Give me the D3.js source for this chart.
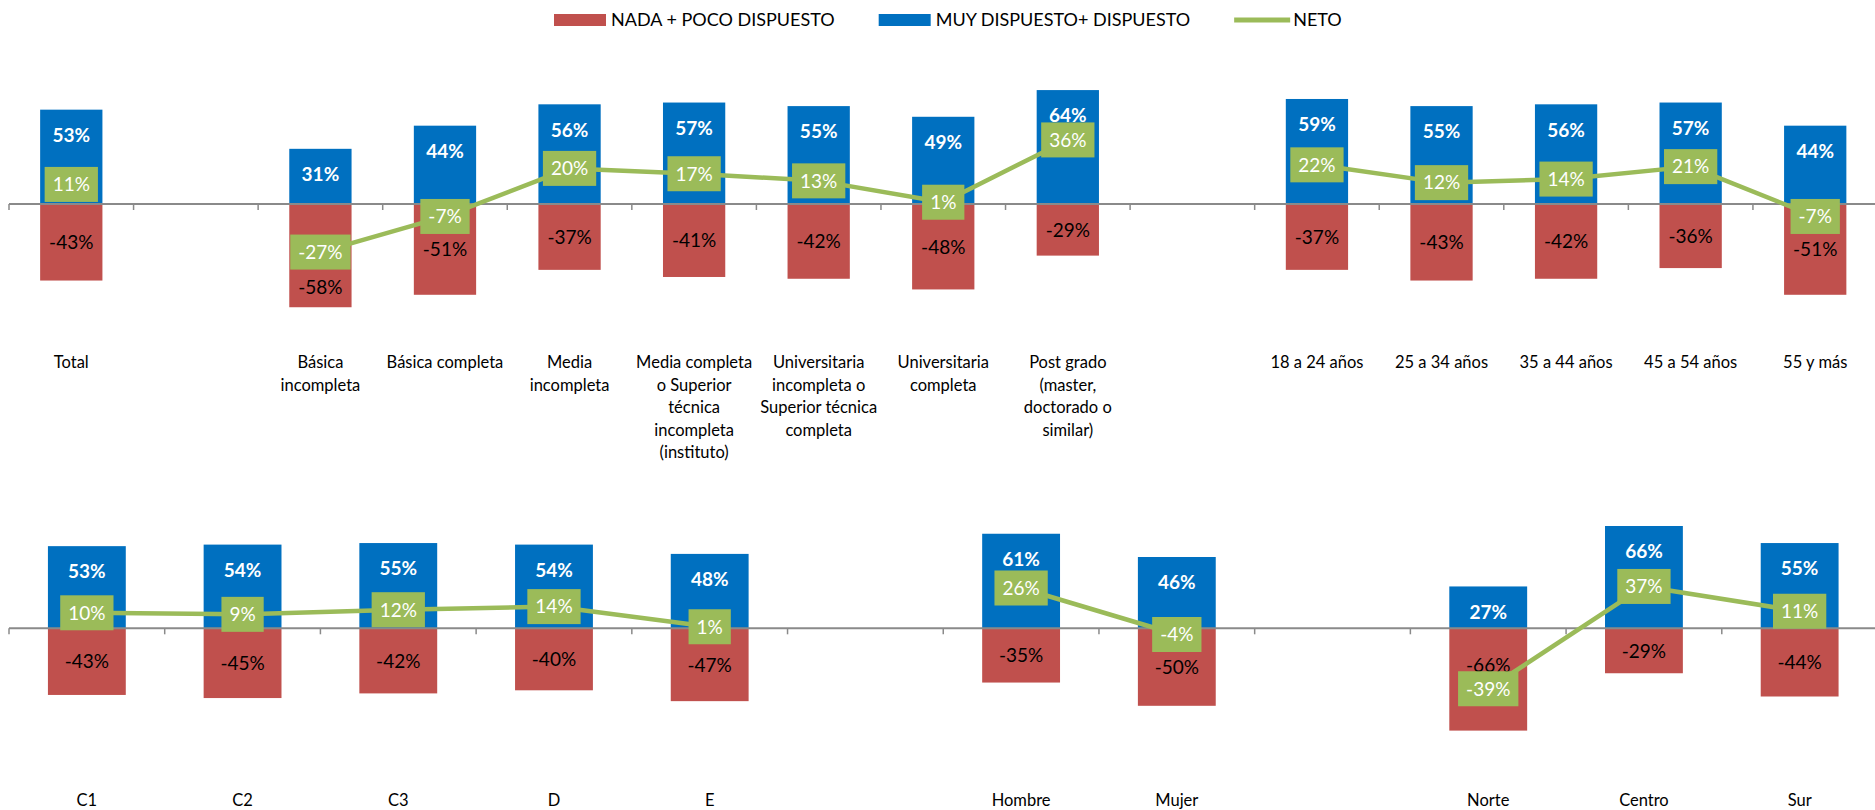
<!DOCTYPE html>
<html>
<head>
<meta charset="utf-8">
<script src="https://cdn.jsdelivr.net/npm/d3@7"></script>
<style>
  body { margin: 0; background: #fff; }
  svg { display: block; font-family: Lato, "Open Sans", sans-serif; }
</style>
</head>
<body>
<svg id="chart" width="1875" height="810"></svg>
<script>
// top panel: total, education level, age ("" = empty gap slot)
const topCategories = [
  "Total", "",
  "Básica\nincompleta", "Básica completa", "Media\nincompleta",
  "Media completa\no Superior\ntécnica\nincompleta\n(instituto)",
  "Universitaria\nincompleta o\nSuperior técnica\ncompleta",
  "Universitaria\ncompleta", "Post grado\n(master,\ndoctorado o\nsimilar)", "",
  "18 a 24 años", "25 a 34 años", "35 a 44 años", "45 a 54 años", "55 y más"
];
const topPositive = [53, null, 31, 44, 56, 57, 55, 49, 64, null, 59, 55, 56, 57, 44];
const topNegative = [-43, null, -58, -51, -37, -41, -42, -48, -29, null, -37, -43, -42, -36, -51];
const topNet = [11, null, -27, -7, 20, 17, 13, 1, 36, null, 22, 12, 14, 21, -7];

// bottom panel: socioeconomic level, gender, zone
const bottomCategories = ["C1", "C2", "C3", "D", "E", "", "Hombre", "Mujer", "", "Norte", "Centro", "Sur"];
const bottomPositive = [53, 54, 55, 54, 48, null, 61, 46, null, 27, 66, 55];
const bottomNegative = [-43, -45, -42, -40, -47, null, -35, -50, null, -66, -29, -44];
const bottomNet = [10, 9, 12, 14, 1, null, 26, -4, null, -39, 37, 11];
// where the line point actually sits in the source (Centro is drawn lower than its label)
const bottomNetPlotted = [10, 9, 12, 14, 1, null, 26, -4, null, -39, 27, 11];

const seriesNames = ["NADA + POCO DISPUESTO", "MUY DISPUESTO+ DISPUESTO", "NETO"];

const colors = { neg: "#C0504D", pos: "#0070C0", net: "#9BBB59", axis: "#8A8A8A" };
const svg = d3.select("#chart");
const boxH = 35;

function pct(v) { return v + "%"; }

function drawPanel(cfg) {
  const g = svg.append("g");
  const n = cfg.categories.length;
  const x = d3.scaleBand().domain(d3.range(n)).range([9, 1877.5]).padding(0);
  const y = d3.scaleLinear().domain(cfg.domain).range(cfg.range);
  const barW = x.bandwidth() * 0.5;
  const cx = i => x(i) + x.bandwidth() / 2;
  const idx = d3.range(n);

  // bars
  g.selectAll(".pos").data(idx.filter(i => cfg.pos[i] != null)).join("rect")
    .attr("class", "pos")
    .attr("x", i => cx(i) - barW / 2).attr("width", barW)
    .attr("y", i => y(cfg.pos[i])).attr("height", i => y(0) - y(cfg.pos[i]))
    .attr("fill", colors.pos);
  g.selectAll(".neg").data(idx.filter(i => cfg.neg[i] != null)).join("rect")
    .attr("class", "neg")
    .attr("x", i => cx(i) - barW / 2).attr("width", barW)
    .attr("y", y(0)).attr("height", i => y(cfg.neg[i]) - y(0))
    .attr("fill", colors.neg);

  // category axis with ticks on the band edges
  g.append("line")
    .attr("x1", x.range()[0]).attr("x2", 1875)
    .attr("y1", y(0)).attr("y2", y(0))
    .attr("stroke", colors.axis).attr("stroke-width", 2);
  g.selectAll(".tick").data(d3.range(n + 1)).join("line")
    .attr("class", "tick")
    .attr("x1", i => x.range()[0] + i * x.step()).attr("x2", i => x.range()[0] + i * x.step())
    .attr("y1", y(0)).attr("y2", y(0) + 6)
    .attr("stroke", colors.axis).attr("stroke-width", 1.5);

  const labels = g.selectAll(".cat").data(idx).join("text")
    .attr("class", "cat")
    .attr("x", cx).attr("y", cfg.labelY)
    .attr("text-anchor", "middle")
    .attr("font-size", 16.5).attr("fill", "#000");
  labels.each(function(i) {
    const lines = cfg.categories[i].split("\n");
    d3.select(this).selectAll("tspan").data(lines).join("tspan")
      .attr("x", cx(i)).attr("dy", (d, k) => k === 0 ? 0 : 22.5)
      .text(d => d);
  });

  // net line
  const line = d3.line()
    .defined(i => cfg.netPlot[i] != null)
    .x(cx).y(i => y(cfg.netPlot[i]));
  g.append("path").datum(idx)
    .attr("d", line)
    .attr("fill", "none").attr("stroke", colors.net)
    .attr("stroke-width", 4.5).attr("stroke-linejoin", "round");

  // value labels
  g.selectAll(".posLbl").data(idx.filter(i => cfg.pos[i] != null)).join("text")
    .attr("class", "posLbl")
    .attr("x", cx).attr("y", i => y(cfg.pos[i]) + 25.5).attr("dy", "0.36em")
    .attr("text-anchor", "middle").attr("font-size", 19).attr("font-weight", 700)
    .attr("fill", "#fff").text(i => pct(cfg.pos[i]));

  // red labels sit mid-bar unless the net box covers them
  const negY = i => {
    let c = (y(0) + y(cfg.neg[i])) / 2;
    const ny = y(cfg.netPlot[i]);
    if (Math.abs(c - ny) < boxH / 2 + 9) {
      const above = ny - boxH / 2 - y(0);
      const below = y(cfg.neg[i]) - (ny + boxH / 2);
      c = below > above ? ny + boxH / 2 + 18 : ny - boxH / 2 - 6;
    }
    return c;
  };
  g.selectAll(".negLbl").data(idx.filter(i => cfg.neg[i] != null)).join("text")
    .attr("class", "negLbl")
    .attr("x", cx).attr("y", negY).attr("dy", "0.36em")
    .attr("text-anchor", "middle").attr("font-size", 19)
    .attr("fill", "#000").text(i => pct(cfg.neg[i]));

  const netG = g.selectAll(".netLbl").data(idx.filter(i => cfg.net[i] != null)).join("g")
    .attr("class", "netLbl")
    .attr("transform", i => `translate(${cx(i)},${y(cfg.netPlot[i])})`);
  netG.append("rect").attr("fill", colors.net);
  const texts = netG.append("text")
    .attr("text-anchor", "middle").attr("dy", "0.36em")
    .attr("font-size", 19).attr("fill", "#fff")
    .text(i => pct(cfg.net[i]));
  texts.each(function() {
    const w = this.getComputedTextLength() + 16;
    d3.select(this.parentNode).select("rect")
      .attr("x", -w / 2).attr("y", -boxH / 2).attr("width", w).attr("height", boxH);
  });
}

drawPanel({
  categories: topCategories, pos: topPositive, neg: topNegative,
  net: topNet, netPlot: topNet,
  domain: [-80, 80], range: [346.4, 61.6], labelY: 368
});
drawPanel({
  categories: bottomCategories, pos: bottomPositive, neg: bottomNegative,
  net: bottomNet, netPlot: bottomNetPlotted,
  domain: [-100, 80], range: [783.3, 504.3], labelY: 806
});

// legend
const legend = svg.append("g").attr("transform", "translate(554,20)");
let lx = 0;
seriesNames.forEach((name, k) => {
  const c = [colors.neg, colors.pos, colors.net][k];
  if (k < 2) {
    legend.append("rect").attr("x", lx).attr("y", -6).attr("width", 52).attr("height", 12).attr("fill", c);
  } else {
    legend.append("line").attr("x1", lx).attr("x2", lx + 56).attr("y1", 0).attr("y2", 0)
      .attr("stroke", c).attr("stroke-width", 5);
  }
  lx += k < 2 ? 57 : 59;
  const t = legend.append("text").attr("x", lx).attr("dy", "0.36em")
    .attr("font-size", 18).attr("fill", "#000").text(name);
  lx += t.node().getComputedTextLength() + 44;
});
</script>
</body>
</html>
